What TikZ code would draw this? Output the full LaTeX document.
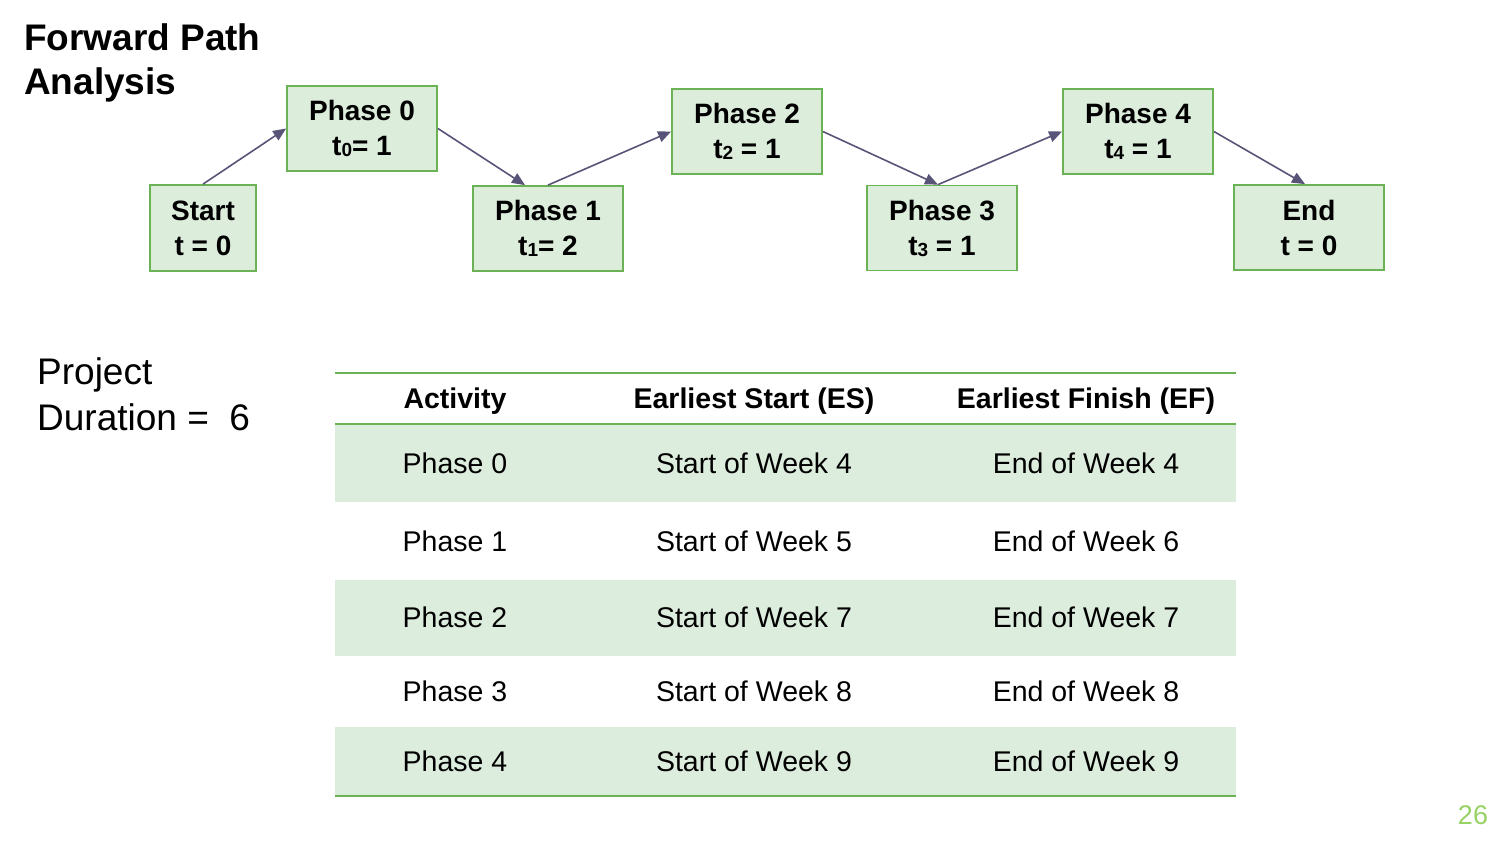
\documentclass[tikz,border=0pt]{standalone}
\usepackage{fontspec}
\setmainfont{Liberation Sans}
\usetikzlibrary{arrows.meta}
\definecolor{boxfill}{RGB}{220,237,220}
\definecolor{boxline}{RGB}{106,178,84}
\definecolor{arr}{RGB}{88,84,120}
\definecolor{rowfill}{RGB}{221,237,221}
\definecolor{pagenum}{RGB}{150,210,100}
\newcommand{\sbs}[1]{\raisebox{-1pt}{\fontsize{19}{19}\selectfont #1}}
\begin{document}
\begin{tikzpicture}[x=1pt,y=-1pt,
  phasebox/.style={draw=boxline, fill=boxfill, line width=1.8pt, minimum width=150pt, minimum height=85pt, align=center, font=\fontsize{28}{35}\selectfont\bfseries, inner sep=0pt},
  conn/.style={draw=arr, line width=1.6pt, -{Triangle[length=13pt,width=11pt]}},
  cell/.style={font=\fontsize{28.5}{34}\selectfont, anchor=center, inner sep=0pt},
  head/.style={font=\fontsize{28.5}{34}\selectfont\bfseries, anchor=center, inner sep=0pt},
  rule/.style={draw=boxline, line width=2pt}]
\path[use as bounding box] (0,0) rectangle (1508,852);

% title
\node[anchor=west, align=left, inner sep=0pt, font=\fontsize{37}{44}\selectfont\bfseries] (title) at (24,63) {Forward Path\\Analysis};

% boxes
\node[phasebox, minimum width=106pt, minimum height=86pt] (start) at (203,228) {Start\\t = 0};
\node[phasebox] (p0) at (362,128.5) {Phase 0\\t\sbs{0}= 1};
\node[phasebox] (p1) at (548,228.5) {Phase 1\\t\sbs{1}= 2};
\node[phasebox] (p2) at (747,131.5) {Phase 2\\t\sbs{2} = 1};
\node[phasebox] (p3) at (942,228) {Phase 3\\t\sbs{3} = 1};
\node[phasebox] (p4) at (1138,131.5) {Phase 4\\t\sbs{4} = 1};
\node[phasebox] (end) at (1309,227.5) {End\\t = 0};

% connectors
\draw[conn] (start.north) -- (p0.west);
\draw[conn] (p0.east) -- ([xshift=-23pt]p1.north);
\draw[conn] (p1.north) -- (p2.west);
\draw[conn] (p2.east) -- ([xshift=-4pt]p3.north);
\draw[conn] ([xshift=-4pt]p3.north) -- (p4.west);
\draw[conn] (p4.east) -- ([xshift=-4pt]end.north);

% project duration
\node[anchor=west, align=left, inner sep=0pt, font=\fontsize{37}{46}\selectfont] (dur) at (37,394) {Project\\Duration =\ \ 6};

% table
\fill[rowfill] (335,425) rectangle (1236,502);
\fill[rowfill] (335,580) rectangle (1236,656);
\fill[rowfill] (335,727) rectangle (1236,796);
\draw[rule] (335,373) -- (1236,373);
\draw[rule] (335,424) -- (1236,424);
\draw[rule] (335,796) -- (1236,796);

\node[head] (h1) at (455,401.5) {Activity};
\node[head] (h2) at (754,401.5) {Earliest Start (ES)};
\node[head] (h3) at (1086,401.5) {Earliest Finish (EF)};

\node[cell] (a0) at (455,463) {Phase 0};
\node[cell] (s0) at (754,463) {Start of Week 4};
\node[cell] (f0) at (1086,463) {End of Week 4};
\node[cell] (a1) at (455,541) {Phase 1};
\node[cell] (s1) at (754,541) {Start of Week 5};
\node[cell] (f1) at (1086,541) {End of Week 6};
\node[cell] (a2) at (455,617) {Phase 2};
\node[cell] (s2) at (754,617) {Start of Week 7};
\node[cell] (f2) at (1086,617) {End of Week 7};
\node[cell] (a3) at (455,691) {Phase 3};
\node[cell] (s3) at (754,691) {Start of Week 8};
\node[cell] (f3) at (1086,691) {End of Week 8};
\node[cell] (a4) at (455,761) {Phase 4};
\node[cell] (s4) at (754,761) {Start of Week 9};
\node[cell] (f4) at (1086,761) {End of Week 9};

% page number
\node[anchor=center, inner sep=0pt, text=pagenum, font=\fontsize{27}{30}\selectfont] (pg) at (1473,815) {26};
\end{tikzpicture}
\end{document}
